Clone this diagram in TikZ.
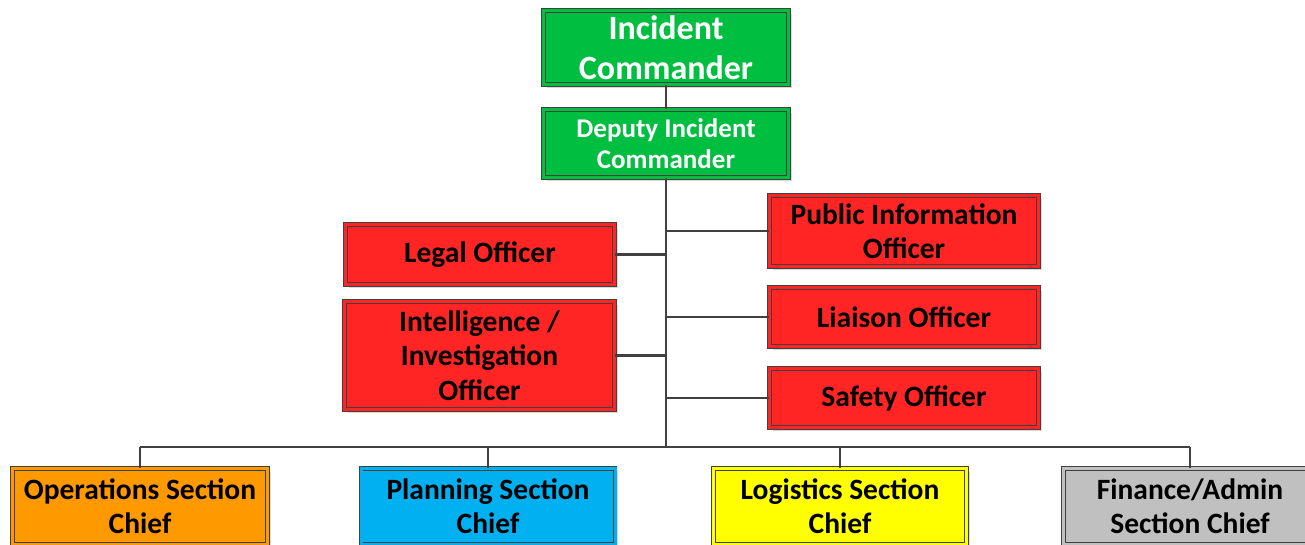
\documentclass[tikz,border=0pt]{standalone}
\usepackage{fontspec}
\setmainfont{Carlito}
\usetikzlibrary{shadows}
\definecolor{cgreen}{HTML}{00BF40}
\definecolor{cred}{HTML}{FF2525}
\definecolor{corange}{HTML}{FF9900}
\definecolor{cblue}{HTML}{00B0F0}
\definecolor{cyellow}{HTML}{FFFF00}
\definecolor{cgray}{HTML}{C0C0C0}
\definecolor{cline}{HTML}{404040}
\tikzset{
  box/.style={draw=cline, line width=0.8pt, double distance=3pt, align=center,
    inner sep=0pt, font=\bfseries,
    drop shadow={shadow xshift=3pt, shadow yshift=-3pt, fill=black!15, opacity=1}},
  gbox/.style={box, fill=cgreen, double=cgreen, text=white},
  rbox/.style={box, fill=cred, double=cred, font=\fontsize{29.5}{34.5}\bfseries},
  sbox/.style={box, minimum height=76pt, font=\fontsize{29.5}{34}\bfseries},
  conn/.style={draw=cline, line width=2.5pt}
}
\begin{document}
\begin{tikzpicture}[x=1pt,y=-1pt]
\useasboundingbox (0,0) rectangle (1305,544);
\coordinate (busc) at (666,447);
\coordinate (busl) at (140,447);
\coordinate (busr) at (1190,447);
\coordinate (tl) at (666,254.5);
\coordinate (ti) at (666,355.5);
\coordinate (tp) at (666,231);
\coordinate (tli) at (666,317);
\coordinate (ts) at (666,398);
\coordinate (bp) at (488,447);
\coordinate (bl) at (840,447);
% nodes
\node[gbox, minimum width=245pt, minimum height=74pt, font=\fontsize{34}{40}\bfseries] (ic) at (666,47.5) {Incident\\Commander};
\node[gbox, minimum width=245pt, minimum height=68pt, font=\fontsize{27}{31}\bfseries] (dic) at (666,143.5) {Deputy Incident\\Commander};
\node[rbox, minimum width=269pt, minimum height=60pt] (legal) at (480,254.5) {Legal Officer};
\node[rbox, minimum width=270pt, minimum height=108pt] (intel) at (479.5,355.5) {Intelligence /\\Investigation\\Officer};
\node[rbox, minimum width=269pt, minimum height=71pt] (pio) at (904,231) {Public Information\\Officer};
\node[rbox, minimum width=269pt, minimum height=59pt] (liaison) at (904,317) {Liaison Officer};
\node[rbox, minimum width=269pt, minimum height=59pt] (safety) at (904,398) {Safety Officer};
\node[sbox, fill=corange, double=corange, minimum width=255pt, anchor=north] (ops) at (140,468.3) {Operations Section\\Chief};
\node[sbox, fill=cblue, double=cblue, minimum width=254pt, anchor=north] (plan) at (488,468.3) {Planning Section\\Chief};
\node[sbox, fill=cyellow, double=cyellow, minimum width=253pt, anchor=north] (log) at (840,468.3) {Logistics Section\\Chief};
\node[sbox, fill=cgray, double=cgray, minimum width=253pt, anchor=north] (fin) at (1190,468.3) {Finance/Admin\\Section Chief};
\draw[conn] (ic.south) -- (dic.north);
\draw[conn] (dic.south) -- (busc);
\draw[conn] (busl) -- (busr);
\draw[conn] (legal.east) -- (tl);
\draw[conn] (intel.east) -- (ti);
\draw[conn] (tp) -- (pio.west);
\draw[conn] (tli) -- (liaison.west);
\draw[conn] (ts) -- (safety.west);
\draw[conn] (busl) -- (ops.north);
\draw[conn] (bp) -- (plan.north);
\draw[conn] (bl) -- (log.north);
\draw[conn] (busr) -- (fin.north);
\end{tikzpicture}
\end{document}
